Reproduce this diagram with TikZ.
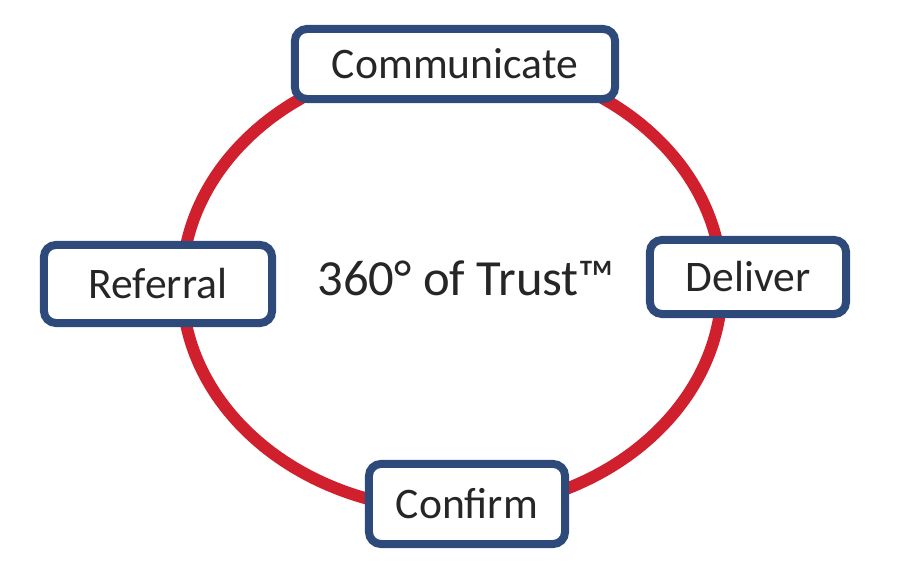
\documentclass[tikz,border=0pt]{standalone}
\usepackage{fontspec}
\setmainfont{Carlito}
\definecolor{boxblue}{HTML}{2E4A7A}
\definecolor{ringred}{HTML}{D0202E}
\begin{document}
\begin{tikzpicture}[x=0.01cm,y=-0.01cm,
  stagebox/.style={draw=boxblue,line width=0.08cm,fill=white,rounded corners=0.12cm,inner sep=0pt,font=\fontsize{12.4}{15}\selectfont,text=black!85}]
\useasboundingbox (0,0) rectangle (900,586);
\draw[ringred,line width=0.12cm] (452,285) ellipse [x radius=270, y radius=225];
\node[stagebox,minimum width=3.2cm,minimum height=0.7cm] (comm) at (455,64) {Communicate};
\node[stagebox,minimum width=2.28cm,minimum height=0.78cm] (ref) at (158,284) {Referral};
\node[stagebox,minimum width=1.96cm,minimum height=0.74cm] (del) at (748,277) {Deliver};
\node[stagebox,minimum width=1.96cm,minimum height=0.8cm] (conf) at (467,504) {Confirm};
\node[font=\fontsize{14.4}{17}\selectfont,text=black!85] (title) at (466,278) {360° of Trust™};
\end{tikzpicture}
\end{document}
